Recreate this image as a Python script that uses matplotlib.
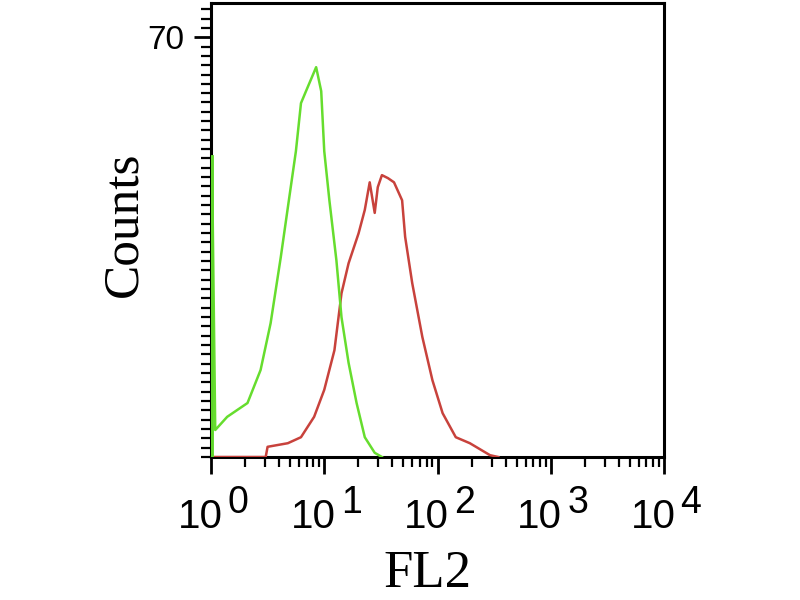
import matplotlib
matplotlib.use('Agg')
import matplotlib.pyplot as plt
from matplotlib.ticker import MultipleLocator, NullFormatter, LogLocator
from matplotlib.transforms import offset_copy

# green histogram (isotype control)
green_fl2 = [1.00, 1.00, 1.02, 1.09, 1.39, 2.10, 2.74, 3.36, 4.13, 4.87, 5.62, 6.23,
             6.90, 7.65, 8.48, 9.40, 10.0, 11.1, 12.8, 14.2, 16.4, 19.3, 22.8, 27.9, 32.3]
green_counts = [0, 50, 50, 4.5, 6.7, 9.0, 14.5, 22.3, 33.3, 42.8, 51.0, 59.0,
                61.0, 63.0, 65.0, 61.0, 51.0, 42.8, 32.8, 23.3, 15.7, 9.0, 3.3, 0.7, 0]

# red histogram (stained sample)
red_fl2 = [1.0, 3.04, 3.16, 4.77, 6.23, 8.14, 10.0, 12.3, 14.2, 16.4, 20.1, 22.8, 25.2,
           27.9, 29.7, 32.3, 36.5, 41.3, 48.7, 51.8, 59.8, 73.5, 90.2, 111, 145, 193, 291, 344]
red_counts = [0, 0, 1.7, 2.3, 3.3, 6.7, 11.2, 17.8, 27.3, 32.3, 37.3, 41.2, 45.8,
              40.7, 45.0, 47.0, 46.5, 45.8, 42.8, 36.7, 29.0, 20.0, 12.8, 7.3, 3.3, 2.3, 0.3, 0]

decades = [1, 10, 100, 1000, 10000]
exponents = ['0', '1', '2', '3', '4']

fig = plt.figure(figsize=(8, 6), dpi=100)
ax = fig.add_axes([211 / 800, 1 - 457 / 600, (664 - 211) / 800, (457 - 3) / 600])

ax.plot(red_fl2, red_counts, color='#c8423c', lw=1.8, zorder=3)
ax.plot(green_fl2, green_counts, color='#66dd2e', lw=1.8, zorder=4)
ax.plot([1.0, 1.0], [0, 50], color='#5fd62a', lw=3.5, zorder=4)

ax.set_xscale('log')
ax.set_xlim(1, 10000)
ax.set_ylim(0, 75.7)

for s in ax.spines.values():
    s.set_linewidth(2.2)

ax.set_xticks(decades)
ax.xaxis.set_minor_locator(LogLocator(base=10, subs=range(2, 10)))
ax.xaxis.set_major_formatter(NullFormatter())
ax.xaxis.set_minor_formatter(NullFormatter())
ax.set_yticks([70])
ax.set_yticklabels(['70'], fontsize=24, family='Liberation Sans')
ax.yaxis.set_minor_locator(MultipleLocator(70 / 45))
ax.tick_params(which='major', direction='out', length=12, width=2, pad=7)
ax.tick_params(which='minor', direction='out', length=7, width=1.6)
ax.tick_params(top=False, right=False, which='both')

# x tick labels written as 10 with a raised exponent
tr = ax.get_xaxis_transform()
for d, e in zip(decades, exponents):
    t1 = offset_copy(tr, fig=fig, x=-11, y=-41, units='dots')
    ax.text(d, 0, '10', transform=t1, ha='center', va='top', fontsize=29,
            family='Liberation Sans', clip_on=False)
    t2 = offset_copy(tr, fig=fig, x=27, y=-28, units='dots')
    ax.text(d, 0, e, transform=t2, ha='center', va='top', fontsize=27,
            family='Liberation Sans', clip_on=False)

fig.text(427 / 800, 1 - 574 / 600, 'FL2', ha='center', va='center', fontsize=38,
         family='Liberation Serif')
fig.text(124 / 800, 1 - 224 / 600, 'Counts', ha='center', va='center', fontsize=37,
         rotation=90, family='Liberation Serif')

fig.savefig('out.png', dpi=100)
